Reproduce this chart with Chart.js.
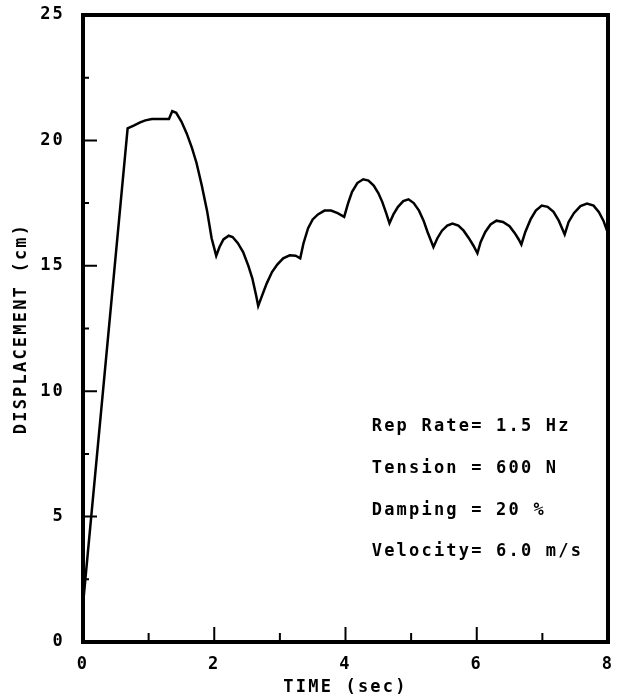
<!DOCTYPE html>
<html>
<head>
<meta charset="utf-8">
<script src="https://cdn.jsdelivr.net/npm/chart.js@4.4.1/dist/chart.umd.min.js"></script>
<style>
  html, body { margin: 0; padding: 0; background: #fff; }
  #wrap { width: 623px; height: 700px; position: relative; }
</style>
</head>
<body>
<div id="wrap"><canvas id="c" width="623" height="700"></canvas></div>
<script>
// ---- data ----
const timeSec = [0, 0.68, 0.78, 0.87, 0.95, 1.05, 1.20, 1.31, 1.36, 1.42, 1.50, 1.58, 1.66, 1.73, 1.81, 1.89, 1.96, 2.03,
  2.08, 2.14, 2.22, 2.28, 2.36, 2.44, 2.52, 2.58, 2.64, 2.67,
  2.72, 2.80, 2.88, 2.96, 3.05, 3.15, 3.24, 3.31,
  3.36, 3.43, 3.50, 3.58, 3.68, 3.78, 3.88, 3.98,
  4.04, 4.10, 4.18, 4.27, 4.35, 4.43, 4.50, 4.56, 4.62, 4.67,
  4.73, 4.80, 4.88, 4.96, 5.04, 5.12, 5.19, 5.25, 5.34,
  5.40, 5.47, 5.55, 5.63, 5.72, 5.80, 5.88, 5.95, 6.01,
  6.06, 6.13, 6.21, 6.30, 6.40, 6.50, 6.58, 6.64, 6.68,
  6.74, 6.82, 6.90, 6.99, 7.08, 7.17, 7.25, 7.34,
  7.40, 7.48, 7.58, 7.68, 7.78, 7.86, 7.93, 8.0];
const displacementCm = [1.5, 20.48, 20.6, 20.72, 20.8, 20.85, 20.85, 20.85, 21.17, 21.1, 20.75, 20.28, 19.7, 19.1, 18.2, 17.2, 16.1, 15.4,
  15.75, 16.05, 16.2, 16.15, 15.9, 15.55, 15.0, 14.5, 13.8, 13.4,
  13.75, 14.3, 14.75, 15.05, 15.3, 15.42, 15.4, 15.3,
  15.9, 16.5, 16.85, 17.05, 17.2, 17.2, 17.1, 16.95,
  17.5, 17.95, 18.3, 18.45, 18.4, 18.2, 17.9, 17.55, 17.1, 16.7,
  17.05, 17.35, 17.58, 17.65, 17.5, 17.2, 16.8, 16.35, 15.75,
  16.1, 16.4, 16.6, 16.68, 16.6, 16.4, 16.1, 15.8, 15.5,
  15.95, 16.35, 16.65, 16.8, 16.75, 16.58, 16.3, 16.05, 15.85,
  16.35, 16.85, 17.2, 17.4, 17.35, 17.15, 16.8, 16.25,
  16.75, 17.1, 17.38, 17.48, 17.4, 17.15, 16.8, 16.3];
const xMajorTicks = [2, 4, 6];
const xMinorTicks = [1, 3, 5, 7];
const yMajorTicks = [5, 10, 15, 20];
const yMinorTicks = [2.5, 7.5, 12.5, 17.5, 22.5];
const annotationLines = ["Rep Rate= 1.5 Hz", "Tension = 600 N", "Damping = 20 %", "Velocity= 6.0 m/s"];
const xTitle = "TIME (sec)";
const yTitle = "DISPLACEMENT (cm)";

const FONT = "'DejaVu Sans Mono', 'Liberation Mono', monospace";
const SPACING = '2.2px';

const points = timeSec.map((t, i) => ({ x: t, y: displacementCm[i] }));

const framePlugin = {
  id: 'frame',
  beforeLayout(chart) { chart.ctx.letterSpacing = SPACING; },
  beforeDraw(chart) { chart.ctx.letterSpacing = SPACING; },
  afterDraw(chart) {
    const { ctx, chartArea: a, scales } = chart;
    const xs = scales.x, ys = scales.y;
    ctx.save();
    ctx.strokeStyle = '#000';
    ctx.lineWidth = 2;
    ctx.beginPath();
    xMajorTicks.forEach(v => { const p = xs.getPixelForValue(v); ctx.moveTo(p, a.bottom); ctx.lineTo(p, a.bottom - 15); });
    xMinorTicks.forEach(v => { const p = xs.getPixelForValue(v); ctx.moveTo(p, a.bottom); ctx.lineTo(p, a.bottom - 9); });
    yMajorTicks.forEach(v => { const p = ys.getPixelForValue(v); ctx.moveTo(a.left, p); ctx.lineTo(a.left + 14, p); });
    yMinorTicks.forEach(v => { const p = ys.getPixelForValue(v); ctx.moveTo(a.left, p); ctx.lineTo(a.left + 6, p); });
    ctx.stroke();
    ctx.lineWidth = 4;
    ctx.strokeRect(a.left, a.top, a.right - a.left, a.bottom - a.top);
    ctx.fillStyle = '#000';
    ctx.font = "bold 17px " + FONT;
    ctx.letterSpacing = SPACING;
    ctx.textAlign = 'left';
    ctx.textBaseline = 'middle';
    const x0 = xs.getPixelForValue(4.4);
    const rowsY = [8.6, 6.93, 5.26, 3.59];
    annotationLines.forEach((s, i) => ctx.fillText(s, x0, ys.getPixelForValue(rowsY[i])));
    ctx.restore();
  }
};

new Chart(document.getElementById('c'), {
  type: 'line',
  data: {
    datasets: [{
      data: points,
      borderColor: '#000',
      borderWidth: 2.5,
      pointRadius: 0,
      tension: 0,
      fill: false
    }]
  },
  options: {
    responsive: false,
    animation: false,
    devicePixelRatio: 1,
    layout: { padding: { top: 15, right: 15, left: 0, bottom: 0 } },
    plugins: { legend: { display: false }, tooltip: { enabled: false } },
    scales: {
      x: {
        type: 'linear', min: 0, max: 8,
        afterFit: s => { s.height = 58; s.paddingLeft = 0; s.paddingRight = 0; },
        grid: { display: false, drawTicks: false },
        border: { display: false },
        ticks: { stepSize: 2, color: '#000', padding: 12, maxRotation: 0,
                 font: { family: FONT, size: 17, weight: 'bold' } },
        title: { display: true, text: xTitle, color: '#000', padding: { top: 0, bottom: 2 },
                 font: { family: FONT, size: 17, weight: 'bold' } }
      },
      y: {
        type: 'linear', min: 0, max: 25,
        afterFit: s => { s.width = 83; s.paddingTop = 0; s.paddingBottom = 0; },
        grid: { display: false, drawTicks: false },
        border: { display: false },
        ticks: { stepSize: 5, color: '#000', padding: 18,
                 font: { family: FONT, size: 17, weight: 'bold' } },
        title: { display: true, text: yTitle, color: '#000', padding: { top: 11, bottom: 0 },
                 font: { family: FONT, size: 17, weight: 'bold' } }
      }
    }
  },
  plugins: [framePlugin]
});
</script>
</body>
</html>
